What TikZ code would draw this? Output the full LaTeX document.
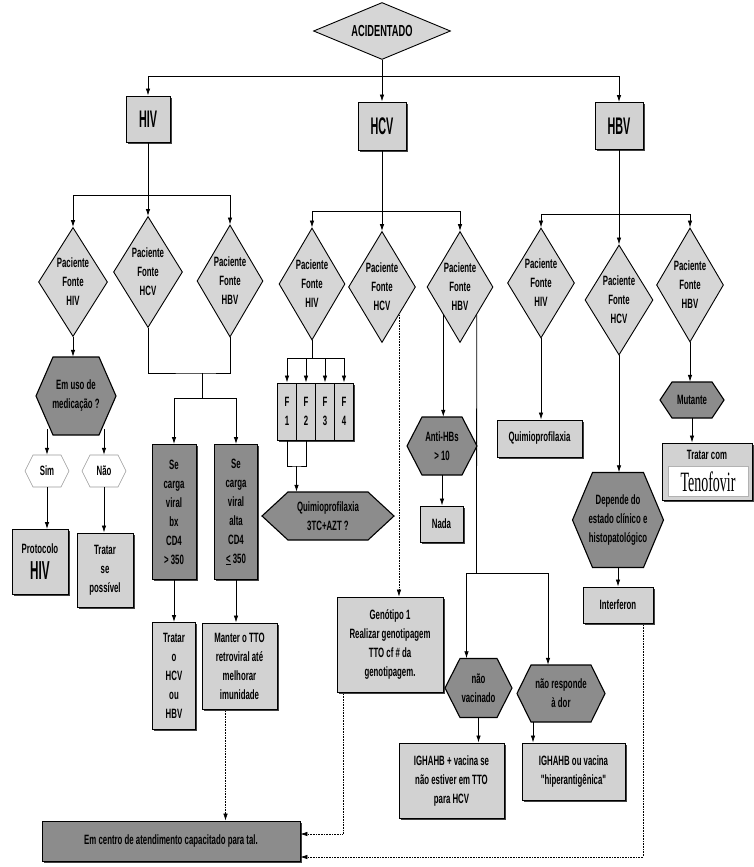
\documentclass[tikz,border=0pt]{standalone}
\usepackage{fontspec}
\setmainfont{Liberation Sans}
\newfontfamily\nar[FakeStretch=0.58]{Liberation Sans}
\newfontfamily\narx[FakeStretch=0.45]{Liberation Sans}
\newfontfamily\tenf[FakeStretch=0.5]{Liberation Serif}
\usetikzlibrary{arrows.meta,shapes.geometric,shadows}

\definecolor{boxgray}{HTML}{D2D2D2}
\definecolor{diagray}{HTML}{D6D6D6}
\definecolor{darkfill}{HTML}{8C8C8C}

\tikzset{
  lbl/.style={align=center, font=\nar\bfseries\fontsize{13.5}{19}\selectfont, inner sep=0pt},
  lightbox/.style={lbl, rectangle, draw=black, line width=0.9pt, fill=boxgray,
    drop shadow={shadow xshift=1.6pt, shadow yshift=-1.6pt, fill=black!75, opacity=1}},
  darkbox/.style={lightbox, fill=darkfill},
  dia/.style={lbl, diamond, aspect=0.6, draw=black, line width=0.9pt, fill=diagray},
  hexdark/.style={draw=black, line width=1.1pt, fill=darkfill},
  hexlight/.style={draw=black!40, line width=0.6pt, fill=white},
  hexlabel/.style={lbl, rectangle},
  link/.style={line width=0.8pt, draw=black},
  arr/.style={link, -{Latex[length=7pt,width=4.5pt]}},
  dotarr/.style={line width=0.6pt, densely dotted, -{Latex[length=7pt,width=4.5pt]}},
  bigtag/.style={font=\narx\bfseries\fontsize{24}{24}\selectfont},
}

% hexagon with flat top and bottom: style, name, x, y, half width, half height, point depth, text
\newcommand\hexnode[8]{%
  \path[#1] (#3-#5,#4) -- (#3-#5+#7,#4-#6) -- (#3+#5-#7,#4-#6) -- (#3+#5,#4)
    -- (#3+#5-#7,#4+#6) -- (#3-#5+#7,#4+#6) -- cycle;
  \node[hexlabel, minimum width=2*#5, minimum height=2*#6] (#2) at (#3,#4) {#8};}

\begin{document}
\begin{tikzpicture}[x=1pt,y=-1pt]
\useasboundingbox (0,0) rectangle (754,867);
\fill[white] (0,0) rectangle (754,867);

% root and the three viruses
\node[dia, aspect=2.4, minimum width=137, minimum height=57,
      font=\nar\bfseries\fontsize{16}{18}\selectfont] (acc) at (382,31) {ACIDENTADO};
\node[lightbox, bigtag, minimum width=44, minimum height=46] (hiv) at (148,119) {HIV};
\node[lightbox, bigtag, minimum width=48, minimum height=48] (hcv) at (382,126) {HCV};
\node[lightbox, bigtag, minimum width=48, minimum height=47] (hbv) at (619,126) {HBV};

\coordinate (j0) at (382,76);
\draw[arr] (acc.south) -- (hcv.north);
\draw[arr] (j0) -| (hiv.north);
\draw[arr] (j0) -| (hbv.north);

% ---------------- HIV branch ----------------
\node[dia, minimum width=69, minimum height=109] (d1) at (73,282) {Paciente\\Fonte\\HIV};
\node[dia, minimum width=69, minimum height=111] (d2) at (148,272) {Paciente\\Fonte\\HCV};
\node[dia, minimum width=66, minimum height=112] (d3) at (230,281) {Paciente\\Fonte\\HBV};

\coordinate (jA) at (148,195);
\draw[link] (hiv.south) -- (jA);
\draw[arr] (jA) -| (d1.north);
\draw[arr] (jA) -- (d2.north);
\draw[arr] (jA) -| (d3.north);

\hexnode{hexdark}{emuso}{76}{396}{40}{39}{17}{Em uso de\\medicação ?}
\draw[arr] (d1.south) -- (d1.south |- emuso.north);

\hexnode{hexlight}{sim}{47}{471}{22}{16}{8}{Sim}
\hexnode{hexlight}{nao}{104}{471}{22}{16}{8}{Não}
\coordinate (s1) at (47,429);
\coordinate (s2) at (104,429);
\draw[arr] (s1) -- (sim.north);
\draw[arr] (s2) -- (nao.north);

\node[lightbox, minimum width=56, minimum height=65] (proto) at (40,562)
  {Protocolo\\[7pt]{\narx\fontsize{26}{26}\selectfont HIV}};
\node[lightbox, minimum width=56, minimum height=74] (tsp) at (105,570) {Tratar\\se\\possível};
\draw[arr] (sim.south) -- (sim.south |- proto.north);
\draw[arr] (nao.south) -- (nao.south |- tsp.north);

\coordinate (jB) at (202,373);
\coordinate (jC) at (202,398);
\draw[link] (d2.south) |- (jB) -| (d3.south);
\draw[link] (jB) -- (jC);

\node[darkbox, minimum width=44, minimum height=135] (cv1) at (174,512) {Se\\carga\\viral\\bx\\CD4\\> 350};
\node[darkbox, minimum width=43, minimum height=135] (cv2) at (236,512) {Se\\carga\\viral\\alta\\CD4\\\underline{<} 350};
\draw[arr] (jC) -| (cv1.north);
\draw[arr] (jC) -| (cv2.north);

\node[lightbox, minimum width=43, minimum height=107] (tho) at (174,676) {Tratar\\o\\HCV\\ou\\HBV};
\node[lightbox, minimum width=75, minimum height=86] (manter) at (239.5,666)
  {Manter o TTO\\retroviral até\\melhorar\\imunidade};
\draw[arr] (cv1.south) -- (tho.north);
\draw[arr] (cv2.south) -- (cv2.south |- manter.north);

% ---------------- HCV branch ----------------
\node[dia, minimum width=66, minimum height=112] (e1) at (312,284) {Paciente\\Fonte\\HIV};
\node[dia, minimum width=67, minimum height=111] (e2) at (382,287) {Paciente\\Fonte\\HCV};
\node[dia, minimum width=66, minimum height=111] (e3) at (460,287) {Paciente\\Fonte\\HBV};

\coordinate (jD) at (382,211);
\draw[link] (hcv.south) -- (jD);
\draw[arr] (jD) -| (e1.north);
\draw[arr] (jD) -- (e2.north);
\draw[arr] (jD) -| (e3.north);

\node[lightbox, minimum width=19, minimum height=57] (f1) at (287,411.5) {F\\1};
\node[lightbox, minimum width=19, minimum height=57] (f2) at (306,411.5) {F\\2};
\node[lightbox, minimum width=19, minimum height=57] (f3) at (325,411.5) {F\\3};
\node[lightbox, minimum width=19, minimum height=57] (f4) at (344,411.5) {F\\4};

\coordinate (jG) at (312,358);
\draw[link] (e1.south) -- (jG);
\draw[link] (f1.north |- jG) -- (f4.north |- jG);
\foreach \f in {f1,f2,f3,f4} \draw[arr] (\f.north |- jG) -- (\f.north);

\hexnode{hexdark}{quimio}{328}{516}{66}{24}{26}{Quimioprofilaxia\\3TC+AZT ?}
\coordinate (jH) at (296.5,466);
\draw[link] (f1.south) |- (jH) -| (f2.south);
\draw[arr] (jH) -- (jH |- quimio.north);

\node[lightbox, minimum width=106, minimum height=95] (geno) at (390,644.5)
  {Genótipo 1\\Realizar genotipagem\\TTO cf \# da\\genotipagem.};
\draw[dotarr] (e2.south east) -- (e2.south east |- geno.north);

\hexnode{hexdark}{ahbs}{442}{446}{35}{29}{15}{Anti-HBs\\> 10}
\draw[arr] (e3.south west) -- (e3.south west |- ahbs.north);
\node[lightbox, minimum width=43, minimum height=36] (nada) at (441.5,524) {Nada};
\draw[arr] (ahbs.south) -- (ahbs.south |- nada.north);

\hexnode{hexdark}{nv}{478.5}{688}{33.5}{29.5}{15}{não\\vacinado}
\hexnode{hexdark}{nr}{561}{693.5}{44}{28.5}{14}{não responde\\à dor}
\coordinate (jE) at (476.5,573);
\draw[link] (e3.south east) -- (jE);
\draw[arr] (jE) -| ([xshift=-12pt]nv.north);
\draw[arr] (jE) -| ([xshift=-13pt]nr.north);

\node[lightbox, minimum width=105, minimum height=75] (ig1) at (451.5,780.5)
  {IGHAHB + vacina se\\não estiver em TTO\\para HCV};
\node[lightbox, minimum width=103, minimum height=57] (ig2) at (573.5,771.5)
  {IGHAHB ou vacina\\"hiperantigênica"};
\draw[arr] (nv.south) -- (nv.south |- ig1.north);
\draw[arr] ([xshift=-28pt]nr.south) -- ([xshift=-28pt]nr.south |- ig2.north);

% ---------------- HBV branch ----------------
\node[dia, minimum width=67, minimum height=110] (g1) at (541,283) {Paciente\\Fonte\\HIV};
\node[dia, minimum width=68, minimum height=110] (g2) at (619,300) {Paciente\\Fonte\\HCV};
\node[dia, minimum width=67, minimum height=114] (g3) at (690,285) {Paciente\\Fonte\\HBV};

\coordinate (jF) at (619,214);
\draw[link] (hbv.south) -- (jF);
\draw[arr] (jF) -| (g1.north);
\draw[arr] (jF) -- (g2.north);
\draw[arr] (jF) -| (g3.north);

\node[lightbox, minimum width=85, minimum height=37] (qp) at (539.5,438.5) {Quimioprofilaxia};
\draw[arr] (g1.south) -- (g1.south |- qp.north);

\hexnode{hexdark}{dep}{618}{520}{45.5}{47.5}{20}{Depende do\\estado clínico e\\histopatológico}
\draw[arr] (g2.south) -- (g2.south |- dep.north);
\node[lightbox, minimum width=70, minimum height=36] (interf) at (618,605) {Interferon};
\draw[arr] (dep.south) -- (interf.north);

\hexnode{hexdark}{mut}{692}{400}{32}{18}{12}{Mutante}
\draw[arr] (g3.south) -- (g3.south |- mut.north);
\node[lightbox, minimum width=90, minimum height=57] (tenof) at (707,471.5) {};
\node[lbl] (tcom) at (707,455) {Tratar com};
\node[rectangle, fill=white, draw=black!30, line width=0.4pt, minimum width=80, minimum height=30,
      inner sep=0pt, font=\tenf\fontsize{28}{28}\selectfont] (tname) at (708,481.5) {Tenofovir};
\draw[arr] (mut.south) -- (mut.south |- tenof.north);

% ---------------- referral ----------------
\node[darkbox, minimum width=258, minimum height=40] (centro) at (171,841)
  {Em centro de atendimento capacitado para tal.};
\draw[dotarr] ([xshift=-14pt]manter.south) -- ([xshift=-14pt]manter.south |- centro.north);
\draw[dotarr] ([xshift=-47pt]geno.south) |- ([yshift=7pt]centro.east);
\draw[dotarr] ([xshift=25pt]interf.south) |- ([yshift=-16pt]centro.east);
\end{tikzpicture}
\end{document}
